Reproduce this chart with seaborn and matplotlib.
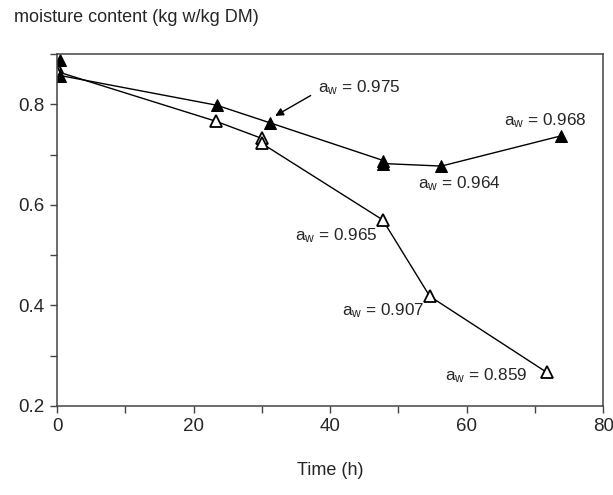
import matplotlib
matplotlib.use('Agg')

import matplotlib.pyplot as plt
import numpy as np
import pandas as pd
import seaborn as sns
from matplotlib.ticker import MultipleLocator

# ------------------------------------------------------------
#     Data
# ------------------------------------------------------------

# filled triangles (upper curve)
time_filled = [0.5, 0.5, 23.4, 31.2, 47.8, 47.8, 56.3, 73.8]
moist_filled = [0.887, 0.857, 0.798, 0.763, 0.688, 0.682, 0.677, 0.737]

# open triangles (lower curve)
time_open = [0.0, 0.0, 23.3, 30.0, 30.0, 47.7, 54.6, 71.7]
moist_open = [0.875, 0.865, 0.766, 0.732, 0.722, 0.570, 0.418, 0.267]

# water activity labels: text, x, y
aw_labels = ["0.975", "0.968", "0.964", "0.965", "0.907", "0.859"]
aw_x = [38.2, 65.5, 52.9, 34.9, 41.8, 56.8]
aw_y = [0.832, 0.768, 0.642, 0.539, 0.390, 0.261]

xticks = [0, 20, 40, 60, 80]
yticks = [0.2, 0.4, 0.6, 0.8]

# ------------------------------------------------------------
#     Plot
# ------------------------------------------------------------

sns.set_style("white")
plt.rcParams['font.family'] = ['Liberation Sans', 'DejaVu Sans']
plt.rcParams['mathtext.default'] = 'regular'

fig = plt.figure(figsize=(6.13, 4.95), dpi=100)
ax = fig.add_axes([0.093, 0.180, 0.891, 0.711])

df_filled = pd.DataFrame({"time": time_filled, "moisture": moist_filled})
df_open = pd.DataFrame({"time": time_open, "moisture": moist_open})

sns.lineplot(data=df_open, x="time", y="moisture", sort=False, estimator=None,
             color="k", lw=1, marker="^", markersize=8,
             markerfacecolor="white", markeredgecolor="k", markeredgewidth=1.3, ax=ax)
sns.lineplot(data=df_filled, x="time", y="moisture", sort=False, estimator=None,
             color="k", lw=1, marker="^", markersize=8,
             markerfacecolor="k", markeredgecolor="k", ax=ax)

ax.set_xlim(0, 80)
ax.set_ylim(0.2, 0.9)
ax.set_xticks(xticks)
ax.set_yticks(yticks)
ax.set_yticklabels([str(t) for t in yticks])
ax.xaxis.set_minor_locator(MultipleLocator(10))
ax.yaxis.set_minor_locator(MultipleLocator(0.1))
ax.tick_params(which='both', direction='out', color='#444444', width=1,
               bottom=True, left=True, labelsize=13.5, pad=4)
ax.tick_params(which='major', length=5)
ax.tick_params(which='minor', length=5)
for s in ax.spines.values():
    s.set_color('#444444')
    s.set_linewidth(1.1)

ax.set_xlabel("Time (h)", fontsize=13, labelpad=19)
ax.set_ylabel("")
fig.text(0.023, 0.965, "moisture content (kg w/kg DM)", fontsize=13, va='center', ha='left')

# a_w labels
for i, (lab, x, y) in enumerate(zip(aw_labels, aw_x, aw_y)):
    ax.text(x, y, "a$_w$ = " + lab, fontsize=12.3, ha='left', va='center')

# arrow for 0.975
ax.annotate("", xy=(31.6, 0.774), xytext=(37.5, 0.820),
            arrowprops=dict(arrowstyle="-|>", color="k", lw=1, mutation_scale=12))

plt.savefig("out.png", dpi=100)
